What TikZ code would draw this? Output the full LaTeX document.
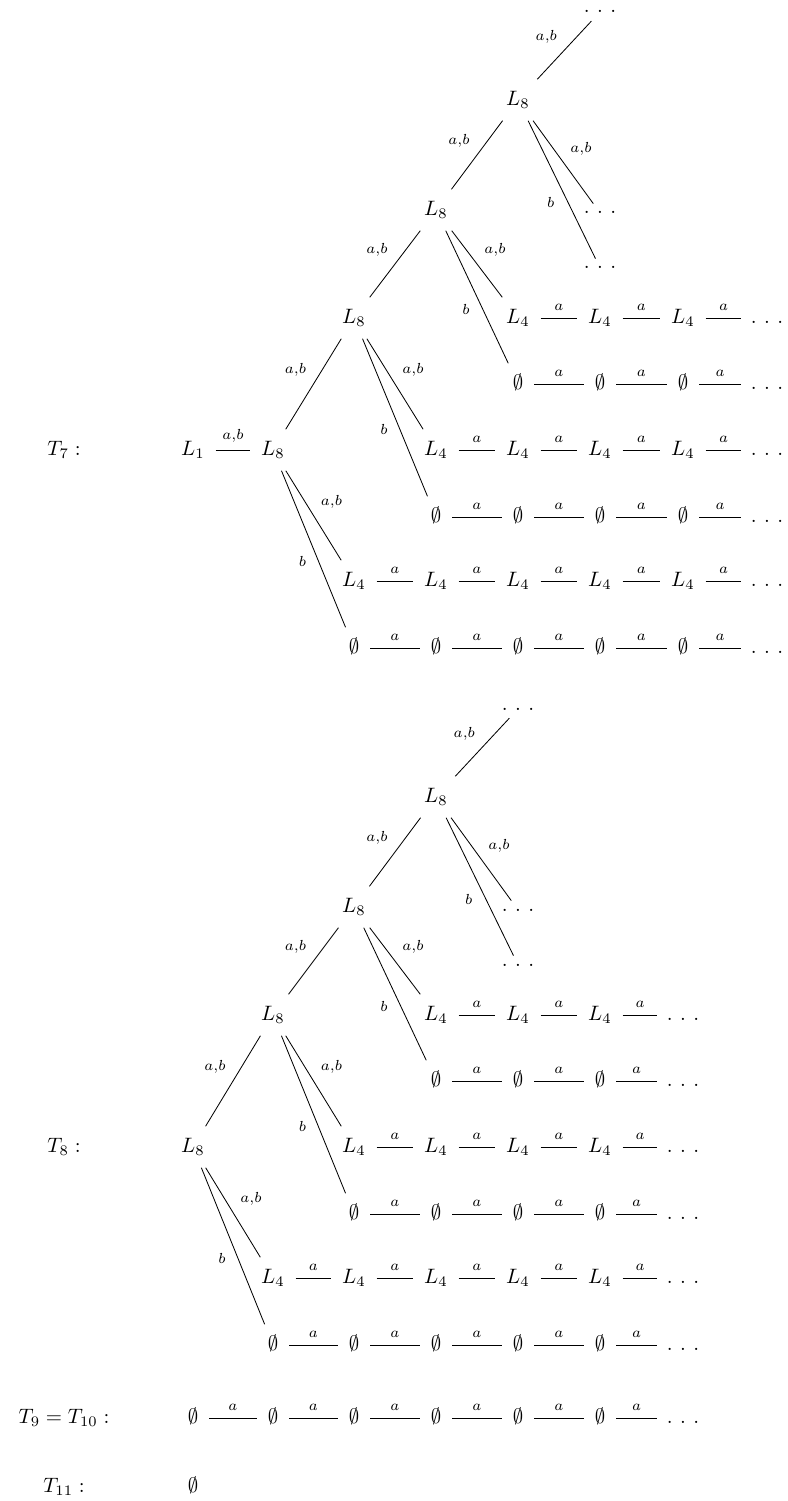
\documentclass[tikz,border=0pt]{standalone}
\newcommand\mydots{.\kern3.6pt.\kern3.6pt.}
\expandafter\def\csname cxa1\endcsname{193}
\expandafter\def\csname cxa2\endcsname{273}
\expandafter\def\csname cxa3\endcsname{354}
\expandafter\def\csname cxa4\endcsname{436}
\expandafter\def\csname cxa5\endcsname{518}
\expandafter\def\csname cxa6\endcsname{600}
\expandafter\def\csname cxa7\endcsname{683}
\expandafter\def\csname cxa8\endcsname{767}
\newcommand\cxv[1]{\csname cxa#1\endcsname}
\newcommand\lb[1]{$\scriptstyle #1$}
\tikzset{
  st/.style={shape=rectangle, inner xsep=5pt, inner ysep=5.5pt, text height=6.9pt, text depth=1.6pt},
  dt/.style={shape=rectangle, anchor=base, inner xsep=4.3pt, inner ysep=3.7pt, text height=1.1pt, text depth=0pt},
  lab/.style={auto, inner sep=3.3pt},
}
% #1 name, #2 first col, #3 last col, #4 axis y, #5 symbol
\newcommand\chainrow[5]{%
  \foreach \cc in {#2,...,#3}{\edef\xx{\cxv{\cc}}\node[st] (#1\cc) at (\xx,#4) {$#5$};}
  \pgfmathtruncatemacro\nxt{#3+1}
  \edef\xx{\cxv{\nxt}}
  \node[dt] (#1\nxt) at (\xx,#4+5.5) {\mydots};
  \foreach \cc in {#2,...,#3}{\pgfmathtruncatemacro\nn{\cc+1}\draw (#1\cc) -- node[lab]{\lb{a}} (#1\cc -| #1\nn.west);}
}
\newcommand\fan[4]{%
  \draw (#1) -- node[lab]{\lb{a,b}} (#2);
  \draw (#1) -- node[lab]{\lb{a,b}} (#3);
  \draw (#1) -- node[lab,swap]{\lb{b}} (#4);
}
\begin{document}
\begin{tikzpicture}[x=0.48pt,y=-0.48pt]
\useasboundingbox (0,0) rectangle (787,1501);
% ---------------- T7 ----------------
\node[st] (t7) at (64,450) {$T_7 :$};
\node[st] (a1) at (193,450) {$L_1$};
\node[st] (a2) at (273,450) {$L_8$};
\node[st] (a3) at (354,318) {$L_8$};
\node[st] (a4) at (436,210) {$L_8$};
\node[st] (a5) at (518,100) {$L_8$};
\node[dt] (d1) at (600,13) {\mydots};
\node[dt] (d2) at (600,214) {\mydots};
\node[dt] (d3) at (600,269) {\mydots};
\chainrow{pA}{5}{7}{318}{L_4}
\chainrow{pB}{5}{7}{384}{\emptyset}
\chainrow{pC}{4}{7}{450}{L_4}
\chainrow{pD}{4}{7}{517}{\emptyset}
\chainrow{pE}{3}{7}{581}{L_4}
\chainrow{pF}{3}{7}{648}{\emptyset}
\draw (a1) -- node[lab]{\lb{a,b}} (a2);
\fan{a2}{a3}{pE3}{pF3}
\fan{a3}{a4}{pC4}{pD4}
\fan{a4}{a5}{pA5}{pB5}
\fan{a5}{d1}{d2}{d3}
% ---------------- T8 ----------------
\node[st] (t8) at (64,1147) {$T_8 :$};
\node[st] (b1) at (193,1147) {$L_8$};
\node[st] (b2) at (273,1015) {$L_8$};
\node[st] (b3) at (354,907) {$L_8$};
\node[st] (b4) at (436,797) {$L_8$};
\node[dt] (e1) at (518,710) {\mydots};
\node[dt] (e2) at (518,911) {\mydots};
\node[dt] (e3) at (518,966) {\mydots};
\chainrow{qA}{4}{6}{1015}{L_4}
\chainrow{qB}{4}{6}{1081}{\emptyset}
\chainrow{qC}{3}{6}{1147}{L_4}
\chainrow{qD}{3}{6}{1214}{\emptyset}
\chainrow{qE}{2}{6}{1278}{L_4}
\chainrow{qF}{2}{6}{1345}{\emptyset}
\fan{b1}{b2}{qE2}{qF2}
\fan{b2}{b3}{qC3}{qD3}
\fan{b3}{b4}{qA4}{qB4}
\fan{b4}{e1}{e2}{e3}
% ---------------- T9 = T10 ----------------
\node[st] (t9) at (64,1418) {$T_9 = T_{10} :$};
\chainrow{r}{1}{6}{1418}{\emptyset}
% ---------------- T11 ----------------
\node[st] (t11) at (64,1487) {$T_{11} :$};
\node[st] (s1) at (193,1487) {$\emptyset$};
\end{tikzpicture}
\end{document}
